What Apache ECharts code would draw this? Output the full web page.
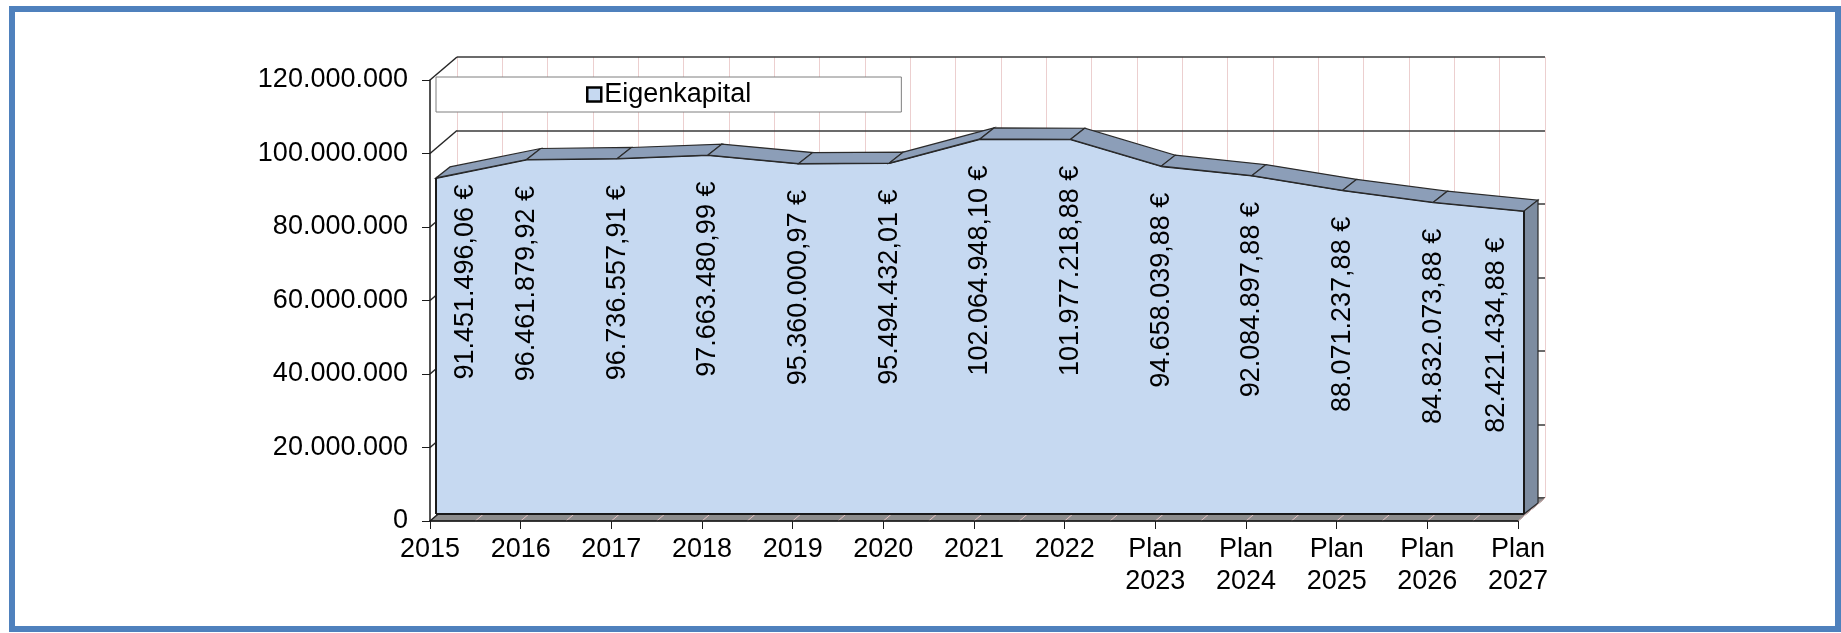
<!DOCTYPE html>
<html>
<head>
<meta charset="utf-8">
<script src="https://cdn.jsdelivr.net/npm/echarts@6/dist/echarts.min.js"></script>
<style>
  body { margin: 0; background: #fff; }
  #wrap { position: relative; width: 1841px; height: 633px; overflow: hidden; }
  .frame {
    position: absolute; left: 9px; top: 6px; width: 1832px; height: 626px;
    box-sizing: border-box; border: 6px solid #4f81bd;
  }
  #chart { position: absolute; left: 0; top: 0; width: 1841px; height: 633px; }
</style>
</head>
<body>
<div id="wrap">
  <div class="frame"></div>
  <div id="chart"></div>
</div>
<script>
// Eigenkapital in EUR
const years = ["2015", "2016", "2017", "2018", "2019", "2020", "2021", "2022",
  "Plan\n2023", "Plan\n2024", "Plan\n2025", "Plan\n2026", "Plan\n2027"];
const equity = [91451496.06, 96461879.92, 96736557.91, 97663480.99, 95360000.97,
  95494432.01, 102064948.10, 101977218.88, 94658039.88, 92084897.88,
  88071237.88, 84832073.88, 82421434.88];
const yTicks = [0, 20000000, 40000000, 60000000, 80000000, 100000000, 120000000];

const FONT = "'Liberation Sans', Arial, sans-serif";
const WALL = [27, -23];   // depth of the whole 3d box
const DEPTH = [14, -11];  // depth of the area ribbon
const n = equity.length;

function dots(v) {
  return String(v).replace(/\B(?=(\d{3})+(?!\d))/g, ".");
}
function euro(v) {
  let [i, d] = v.toFixed(2).split(".");
  return dots(i) + "," + d + " €";
}

const myChart = echarts.init(document.getElementById("chart"));

// walls + floor, drawn behind the area
function renderDecor(params, api) {
  let kids = [];
  let c0 = api.coord([0, 0]);
  let c1 = api.coord([n - 1, 0]);
  kids.push({
    type: "polygon",
    shape: { points: [c0, c1, [c1[0] + WALL[0], c1[1] + WALL[1]], [c0[0] + WALL[0], c0[1] + WALL[1]]] },
    style: { fill: "#8c8c8c", stroke: "#333", lineWidth: 1 }
  });
  for (let i = 0; i < n - 1; i++) {
    let a = api.coord([i, 0]);
    let b = api.coord([i + 1, 0]);
    let xs = [(a[0] + b[0]) / 2, b[0]];
    xs.forEach(x => {
      kids.push({
        type: "line",
        shape: { x1: x, y1: a[1], x2: x + WALL[0], y2: a[1] + WALL[1] },
        style: { stroke: "#e6c3c3", lineWidth: 1 }
      });
    });
  }
  yTicks.forEach(v => {
    let p = api.coord([0, v]);
    kids.push({
      type: "line",
      shape: { x1: p[0], y1: p[1], x2: p[0] + WALL[0], y2: p[1] + WALL[1] },
      style: { stroke: "#262626", lineWidth: 1.5 }
    });
  });
  return { type: "group", children: kids };
}

// top ridge, right side and outline of the area
function renderRidge(params, api) {
  let i = params.dataIndex;
  let kids = [];
  let p = api.coord([i, equity[i]]);
  let pd = [p[0] + DEPTH[0], p[1] + DEPTH[1]];
  if (i < n - 1) {
    let q = api.coord([i + 1, equity[i + 1]]);
    let qd = [q[0] + DEPTH[0], q[1] + DEPTH[1]];
    kids.push({
      type: "polygon",
      shape: { points: [p, q, qd, pd] },
      style: { fill: "#8c9eb8", stroke: "#2b2b2b", lineWidth: 1.2 }
    });
  } else {
    let b = api.coord([i, 0]);
    kids.push({
      type: "polygon",
      shape: { points: [p, b, [b[0] + DEPTH[0], b[1] + DEPTH[1]], pd] },
      style: { fill: "#7d8ca0", stroke: "#2b2b2b", lineWidth: 1.2 }
    });
  }
  if (i === 0) {
    let b0 = api.coord([0, 0]);
    let b1 = api.coord([n - 1, 0]);
    kids.push({ type: "line", shape: { x1: b0[0], y1: b0[1], x2: p[0], y2: p[1] },
      style: { stroke: "#1a1a1a", lineWidth: 2 } });
    kids.push({ type: "line", shape: { x1: b0[0], y1: b0[1], x2: b1[0], y2: b1[1] },
      style: { stroke: "#1a1a1a", lineWidth: 2 } });
  }
  if (i === n - 1) {
    let b = api.coord([i, 0]);
    kids.push({ type: "line", shape: { x1: b[0], y1: b[1], x2: p[0], y2: p[1] },
      style: { stroke: "#1a1a1a", lineWidth: 2 } });
  }
  return { type: "group", children: kids };
}

const hiddenAxis = {
  axisLine: { show: false }, axisTick: { show: false }, axisLabel: { show: false }, splitLine: { show: false }
};

let option = {
  animation: false,
  textStyle: { fontFamily: FONT },
  legend: {
    left: 436,
    top: 77,
    padding: [4, 150, 4, 150],
    backgroundColor: "#fff",
    borderColor: "#7f7f7f",
    borderWidth: 1,
    itemWidth: 14,
    itemHeight: 14,
    itemGap: 4,
    textStyle: { fontSize: 27, color: "#000", fontFamily: FONT, padding: [0, 0, 0, -2] },
    data: [{
      name: "Eigenkapital",
      icon: "rect",
      itemStyle: { color: "#c6d9f1", borderColor: "#000", borderWidth: 2.5 }
    }]
  },
  grid: [
    { left: 430, top: 80, width: 1088, height: 441 },   // front axes
    { left: 436, top: 73, width: 1088, height: 441 },   // front face of area
    { left: 457, top: 57, width: 1088, height: 441 }    // back wall
  ],
  xAxis: [
    {
      gridIndex: 0, type: "category", boundaryGap: false, data: years, z: 6,
      axisLine: { lineStyle: { color: "#1a1a1a", width: 1.5 } },
      axisTick: { length: 8, lineStyle: { color: "#1a1a1a" } },
      axisLabel: { fontSize: 27, color: "#000", margin: 13, lineHeight: 32, fontFamily: FONT, interval: 0 },
      splitLine: { show: false }
    },
    { gridIndex: 1, type: "category", boundaryGap: false, data: years, ...hiddenAxis },
    {
      gridIndex: 2, type: "value", min: 0, max: n - 1, interval: 0.5, z: 0,
      axisLine: { show: false }, axisTick: { show: false }, axisLabel: { show: false },
      splitLine: { show: true, lineStyle: { color: "#eccfcf", width: 1 } }
    }
  ],
  yAxis: [
    {
      gridIndex: 0, type: "value", min: 0, max: 120000000, interval: 20000000, z: 6,
      axisLine: { show: true, lineStyle: { color: "#1a1a1a", width: 1.5 } },
      axisTick: { show: true, length: 8, lineStyle: { color: "#1a1a1a" } },
      axisLabel: { fontSize: 27, color: "#000", margin: 22, fontFamily: FONT, formatter: v => dots(v) },
      splitLine: { show: false }
    },
    { gridIndex: 1, type: "value", min: 0, max: 120000000, interval: 20000000, ...hiddenAxis },
    {
      gridIndex: 2, type: "value", min: 0, max: 120000000, interval: 20000000, z: 1,
      axisLine: { show: false }, axisTick: { show: false }, axisLabel: { show: false },
      splitLine: { show: true, lineStyle: { color: "#3a3a3a", width: 1.5 } }
    }
  ],
  series: [
    { type: "line", xAxisIndex: 2, yAxisIndex: 2, data: [], silent: true },
    {
      type: "custom", xAxisIndex: 0, yAxisIndex: 0, z: 2, silent: true,
      data: [[0, 0]], renderItem: renderDecor
    },
    {
      name: "Eigenkapital",
      type: "line",
      xAxisIndex: 1, yAxisIndex: 1, z: 3,
      symbol: "circle",
      symbolSize: 1,
      showSymbol: true,
      lineStyle: { color: "#1a1a1a", width: 2 },
      areaStyle: { color: "#c6d9f1", opacity: 1 },
      itemStyle: { color: "rgba(0,0,0,0)" },
      label: {
        show: true,
        position: "bottom",
        distance: 26,
        rotate: 90,
        align: "right",
        verticalAlign: "middle",
        fontSize: 27,
        color: "#000",
        fontFamily: FONT,
        formatter: p => euro(p.value)
      },
      data: equity.map((v, i) => {
        // first/last label pushed inside the area, like the original
        if (i === 0) return { value: v, label: { offset: [20, 30] } };
        if (i === n - 1) return { value: v, label: { offset: [0, -27] } };
        return v;
      })
    },
    {
      type: "custom", xAxisIndex: 1, yAxisIndex: 1, z: 4, silent: true,
      data: equity.map((v, i) => [i, v]),
      renderItem: renderRidge
    }
  ]
};
myChart.setOption(option);
</script>
</body>
</html>
